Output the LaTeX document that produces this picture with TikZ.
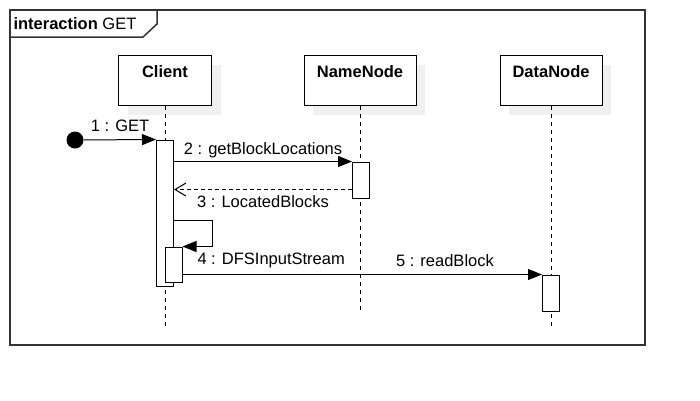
\documentclass[tikz,border=0pt]{standalone}
\usepackage{fontspec}
\setmainfont{Liberation Sans}
\usetikzlibrary{arrows.meta, shadows, calc, positioning}

\begin{document}
\begin{tikzpicture}[x=1pt, y=-1pt, line width=1pt, font=\fontsize{16.5}{19}\selectfont,
	head/.style={draw, fill=white, minimum width=#1, minimum height=50pt, inner xsep=2pt, inner ysep=10pt,
		text height=12pt, text depth=18pt, anchor=north, font=\fontsize{16.5}{19}\selectfont\bfseries,
		drop shadow={shadow xshift=9pt, shadow yshift=-9pt, fill=black!6, opacity=1, draw=none}},
	life/.style={dash pattern=on 4pt off 4pt},
	act/.style={draw, fill=white, minimum width=17pt, minimum height=#1, inner sep=0pt},
	start/.style={circle, fill=black, minimum size=17pt, inner sep=0pt},
	call/.style={-{Triangle[length=14pt, width=11pt]}},
	reply/.style={dash pattern=on 4pt off 3pt, -{Straight Barb[length=11pt, width=13pt]}},
	lbl/.style={inner sep=0pt, anchor=base}
	]
	\useasboundingbox (0,0) rectangle (700,400);

	% frame
	\draw[black!80, line width=1.5pt] (10,10) rectangle (645,345);
	\draw[black!80, line width=1.5pt] (10,37) -- (143,37) -- (157,24) -- (157,10);
	\node[anchor=base west, inner sep=0pt] (title) at (13,29) {\textbf{interaction} GET};

	% lifelines
	\node[head=93pt]  (client) at (165,55) {Client};
	\node[head=112pt] (name)   at (360,55) {NameNode};
	\node[head=102pt] (data)   at (551,55) {DataNode};
	\draw[life] (client.south) -- ++(0,222);
	\draw[life] (name.south)   -- ++(0,207);
	\draw[life] (data.south)   -- ++(0,222);

	% activations
	\node[act=146pt] (cact)  at (165,213)   {};
	\node[act=35pt]  (cnest) at (173.5,264.5) {};
	\node[act=36pt]  (nact)  at (361,180)   {};
	\node[act=36pt]  (dact)  at (551,293)   {};

	% messages
	\node[start] (init) at (75,140) {};
	\draw[call] (init) -- (cact.north west)
		node[lbl, midway, yshift=8pt] {1 : GET};
	\draw[call] (cact.east |- nact.north) -- (nact.north west)
		node[lbl, midway, yshift=7pt] {2 : getBlockLocations};
	\draw[reply] ($(nact.south west)+(0,-9)$) -- ($(cact.east |- nact.south)+(0,-9)$)
		node[lbl, midway, yshift=-18pt] {3 : LocatedBlocks};
	\draw[call] ($(cact.north east)+(0,81)$) -- ++(38,0) |- (cnest.north east);
	\node[lbl, anchor=base west] (l4) at (197,264) {4 : DFSInputStream};
	\draw[call] (cnest.east |- dact.north) -- (dact.north west)
		node[lbl, pos=0.73, yshift=8pt] {5 : readBlock};
\end{tikzpicture}
\end{document}
